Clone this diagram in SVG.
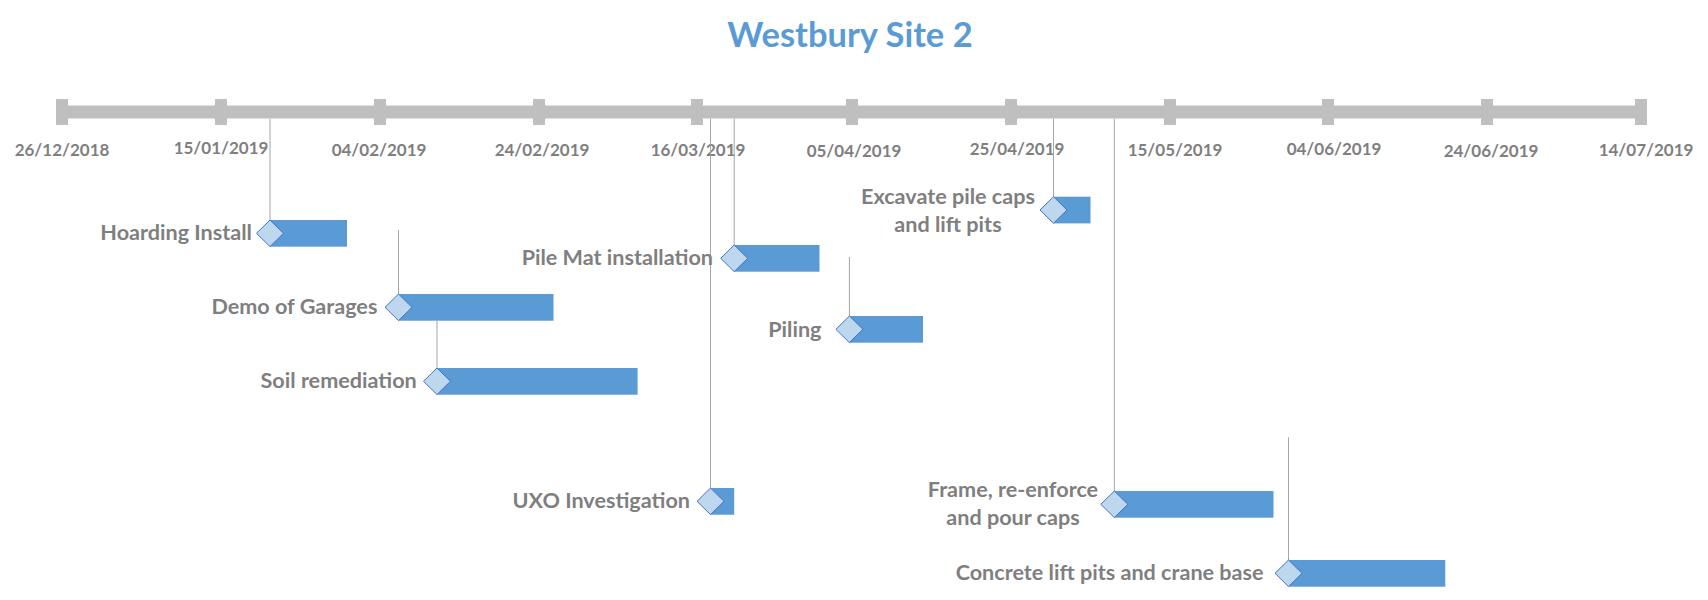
<svg xmlns="http://www.w3.org/2000/svg" width="1708" height="600" viewBox="0 0 1708 600">
<style>
  .title{font-family:Lato,"Liberation Sans",sans-serif;font-weight:bold;font-size:34.5px;fill:#5B9BD5;text-anchor:middle}
  .date{font-family:Lato,"Liberation Sans",sans-serif;font-weight:bold;font-size:17px;fill:#7F7F7F;text-anchor:middle}
  .lbl{font-family:Lato,"Liberation Sans",sans-serif;font-weight:bold;font-size:21.6px;fill:#7F7F7F;text-anchor:end}
  .lblc{font-family:Lato,"Liberation Sans",sans-serif;font-weight:bold;font-size:21.6px;fill:#7F7F7F;text-anchor:middle}
  .axis{fill:#BFBFBF}
  .bar{fill:#5B9BD5}
  .dia{fill:#BDD7EE;stroke:#4472C4;stroke-width:1}
  .conn line{stroke:#A6A6A6;stroke-width:1}
</style>
<rect width="1708" height="600" fill="#FFFFFF"/>
<text class="title" x="850" y="47">Westbury Site 2</text>
<g id="axis">
  <rect class="axis" x="57" y="105.5" width="1589" height="13"/>
  <rect class="axis" x="56" y="99" width="12" height="26"/>
  <rect class="axis" x="215" y="99" width="12" height="26"/>
  <rect class="axis" x="374" y="99" width="12" height="26"/>
  <rect class="axis" x="533" y="99" width="12" height="26"/>
  <rect class="axis" x="691" y="99" width="12" height="26"/>
  <rect class="axis" x="846" y="99" width="12" height="26"/>
  <rect class="axis" x="1005" y="99" width="12" height="26"/>
  <rect class="axis" x="1164" y="99" width="12" height="26"/>
  <rect class="axis" x="1322" y="99" width="12" height="26"/>
  <rect class="axis" x="1481" y="99" width="12" height="26"/>
  <rect class="axis" x="1635" y="99" width="12" height="26"/>
  <text class="date" x="62" y="155.5">26/12/2018</text>
  <text class="date" x="221" y="153.5">15/01/2019</text>
  <text class="date" x="379" y="155.5">04/02/2019</text>
  <text class="date" x="542" y="155.5">24/02/2019</text>
  <text class="date" x="698" y="155.5">16/03/2019</text>
  <text class="date" x="854" y="156.5">05/04/2019</text>
  <text class="date" x="1017" y="154.5">25/04/2019</text>
  <text class="date" x="1175" y="155.5">15/05/2019</text>
  <text class="date" x="1334" y="154.5">04/06/2019</text>
  <text class="date" x="1491" y="157">24/06/2019</text>
  <text class="date" x="1646" y="155.5">14/07/2019</text>
</g>
<g id="connectors" class="conn">
  <line x1="270" y1="118.5" x2="270" y2="220"/>
  <line x1="398.5" y1="230" x2="398.5" y2="294"/>
  <line x1="437" y1="320.7" x2="437" y2="368"/>
  <line x1="710.5" y1="118.5" x2="710.5" y2="488"/>
  <line x1="734.2" y1="118.5" x2="734.2" y2="245"/>
  <line x1="849.4" y1="257" x2="849.4" y2="316"/>
  <line x1="1053.5" y1="118.5" x2="1053.5" y2="196.7"/>
  <line x1="1114.3" y1="118.5" x2="1114.3" y2="491"/>
  <line x1="1288.5" y1="437.3" x2="1288.5" y2="560"/>
</g>
<g id="hoarding">
  <rect class="bar" x="270" y="220" width="77" height="26.7"/>
  <polygon class="dia" points="256.5,233.3 270,220 283.5,233.3 270,246.6"/>
  <text class="lbl" x="252" y="240.3">Hoarding Install</text>
</g>
<g id="demo">
  <rect class="bar" x="398.5" y="294" width="155" height="26.7"/>
  <polygon class="dia" points="385,307.3 398.5,294 412,307.3 398.5,320.6"/>
  <text class="lbl" x="377.4" y="314.3">Demo of Garages</text>
</g>
<g id="soil">
  <rect class="bar" x="437" y="368" width="200.6" height="26.7"/>
  <polygon class="dia" points="423.5,381.3 437,368 450.5,381.3 437,394.6"/>
  <text class="lbl" x="416.8" y="388.3">Soil remediation</text>
</g>
<g id="uxo">
  <rect class="bar" x="710.5" y="488" width="23.7" height="26.7"/>
  <polygon class="dia" points="697,501.3 710.5,488 724,501.3 710.5,514.6"/>
  <text class="lbl" x="690" y="508.3">UXO Investigation</text>
</g>
<g id="pilemat">
  <rect class="bar" x="734.2" y="245" width="85.3" height="26.7"/>
  <polygon class="dia" points="720.7,258.3 734.2,245 747.7,258.3 734.2,271.6"/>
  <text class="lbl" x="713" y="265.3">Pile Mat installation</text>
</g>
<g id="piling">
  <rect class="bar" x="849.4" y="316" width="73.6" height="26.7"/>
  <polygon class="dia" points="835.9,329.3 849.4,316 862.9,329.3 849.4,342.6"/>
  <text class="lbl" x="821.5" y="336.8">Piling</text>
</g>
<g id="excavate">
  <rect class="bar" x="1053.5" y="196.7" width="37" height="26.7"/>
  <polygon class="dia" points="1040,210 1053.5,196.7 1067,210 1053.5,223.3"/>
  <text class="lblc" x="948" y="204">Excavate pile caps</text>
  <text class="lblc" x="948" y="232">and lift pits</text>
</g>
<g id="frame">
  <rect class="bar" x="1114.3" y="491" width="159.2" height="26.7"/>
  <polygon class="dia" points="1100.8,504.3 1114.3,491 1127.8,504.3 1114.3,517.6"/>
  <text class="lblc" x="1013" y="497">Frame, re-enforce</text>
  <text class="lblc" x="1013" y="524.7">and pour caps</text>
</g>
<g id="concrete">
  <rect class="bar" x="1288.5" y="560" width="156.8" height="26.7"/>
  <polygon class="dia" points="1275,573.3 1288.5,560 1302,573.3 1288.5,586.6"/>
  <text class="lbl" x="1263.6" y="580.3">Concrete lift pits and crane base</text>
</g>
</svg>
